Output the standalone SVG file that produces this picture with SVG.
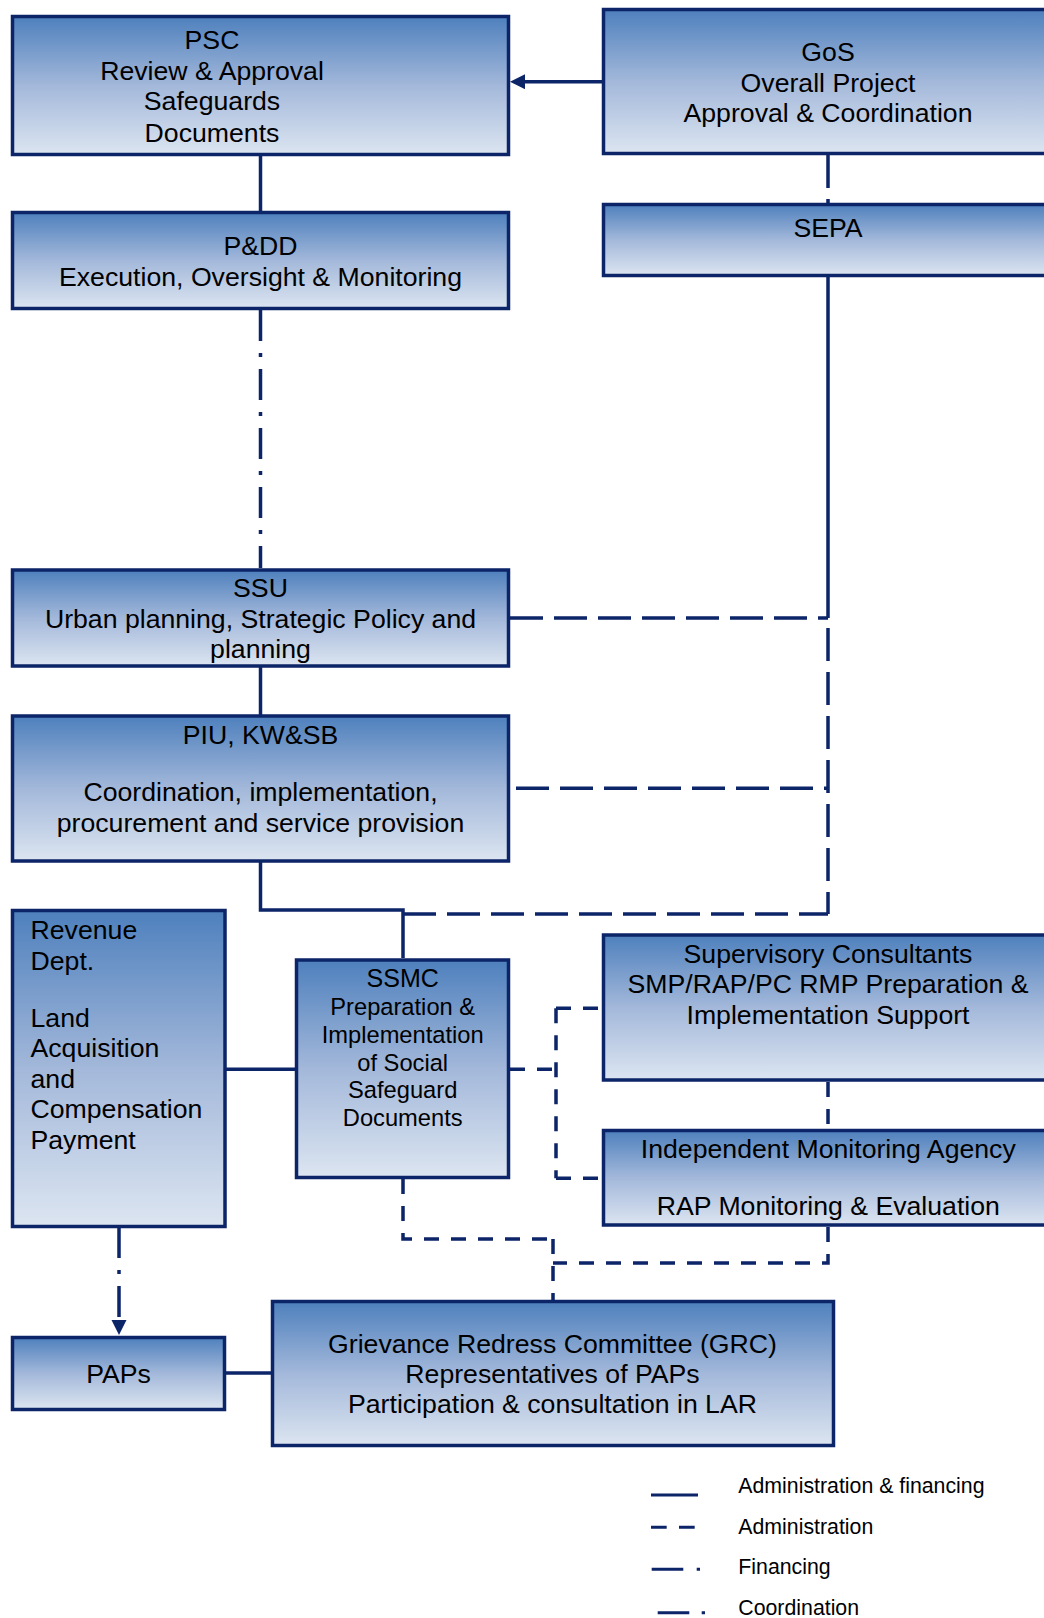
<svg xmlns="http://www.w3.org/2000/svg" width="1044" height="1618" viewBox="0 0 1044 1618">
<defs>
<linearGradient id="g" x1="0" y1="0" x2="0" y2="1">
<stop offset="0" stop-color="#4E80BD"/>
<stop offset="0.5" stop-color="#A3B8DA"/>
<stop offset="1" stop-color="#DCE5F1"/>
</linearGradient>
<marker id="arr" markerUnits="userSpaceOnUse" markerWidth="16" markerHeight="16" refX="0" refY="7.5" orient="auto" viewBox="0 0 16 16"><path d="M0,0 L15,7.5 L0,15 z" fill="#0C2468"/></marker>
<style>
.box{fill:url(#g);stroke:#0C2468;stroke-width:3.5}
.t{font-family:"Liberation Sans",Arial,sans-serif;font-size:26.67px;fill:#000}
.c{text-anchor:middle}
.s{font-size:23.7px}
.lg{font-size:21.3px}
.ln{fill:none;stroke:#0C2468;stroke-width:3.5}
.dl{stroke-dasharray:33 11}
.ds{stroke-dasharray:15 12}
.dd{stroke-dasharray:31 12 4 12}
</style>
</defs>
<rect width="1044" height="1618" fill="#fff"/>
<g id="connectors">
<path class="ln" d="M260.5,156 V211"/>
<path class="ln" d="M602,81.7 H525" marker-end="url(#arr)"/>
<path class="ln dl" d="M828,155 V203"/>
<path class="ln dd" d="M260.5,310 V568"/>
<path class="ln" d="M828,277 V618"/>
<path class="ln dl" d="M510,618 H828"/>
<path class="ln dl" d="M828,618 V914" style="stroke-dashoffset:34"/>
<path class="ln dl" d="M516,788.3 H828"/>
<path class="ln" d="M260.5,667 V715"/>
<path class="ln" d="M260.5,862 V910 H403 V958"/>
<path class="ln dl" d="M403,914 H828"/>
<path class="ln" d="M226,1069.3 H296"/>
<path class="ln ds" d="M510,1069.3 H556"/>
<path class="ln ds" d="M556,1008.3 V1178.3"/>
<path class="ln ds" d="M556,1008.3 H602"/>
<path class="ln ds" d="M556,1178.3 H602"/>
<path class="ln ds" d="M828,1082 V1129"/>
<path class="ln ds" d="M403,1179 V1239 H553"/>
<path class="ln ds" d="M828,1227 V1263 H553"/>
<path class="ln ds" d="M553,1239 V1300"/>
<path class="ln dd" d="M119,1228 V1320" style="stroke-dashoffset:1" marker-end="url(#arr)"/>
<path class="ln" d="M226,1373 H272"/>
</g>
<g id="psc"><rect class="box" x="12.5" y="16.5" width="496" height="138"/>
<text class="t c" x="212" y="49">PSC</text>
<text class="t c" x="212" y="80">Review &amp; Approval</text>
<text class="t c" x="212" y="110">Safeguards</text>
<text class="t c" x="212" y="141.7">Documents</text></g>
<g id="gos"><rect class="box" x="603.5" y="9.5" width="449" height="144"/>
<text class="t c" x="828" y="61">GoS</text>
<text class="t c" x="828" y="91.7">Overall Project</text>
<text class="t c" x="828" y="121.7">Approval &amp; Coordination</text></g>
<g id="pdd"><rect class="box" x="12.5" y="212.5" width="496" height="96"/>
<text class="t c" x="260.5" y="255">P&amp;DD</text>
<text class="t c" x="260.5" y="286">Execution, Oversight &amp; Monitoring</text></g>
<g id="sepa"><rect class="box" x="603.5" y="204.5" width="449" height="71"/>
<text class="t c" x="828" y="236.7">SEPA</text></g>
<g id="ssu"><rect class="box" x="12.5" y="570" width="496" height="96"/>
<text class="t c" x="260.5" y="597.3">SSU</text>
<text class="t c" x="260.5" y="628.3">Urban planning, Strategic Policy and</text>
<text class="t c" x="260.5" y="658.3">planning</text></g>
<g id="piu"><rect class="box" x="12.5" y="716" width="496" height="145"/>
<text class="t c" x="260.5" y="744">PIU, KW&amp;SB</text>
<text class="t c" x="260.5" y="801">Coordination, implementation,</text>
<text class="t c" x="260.5" y="831.7">procurement and service provision</text></g>
<g id="revenue"><rect class="box" x="12.5" y="910.5" width="212.5" height="316"/>
<text class="t" x="30.5" y="939">Revenue</text>
<text class="t" x="30.5" y="970">Dept.</text>
<text class="t" x="30.5" y="1026.7">Land</text>
<text class="t" x="30.5" y="1057.3">Acquisition</text>
<text class="t" x="30.5" y="1088.3">and</text>
<text class="t" x="30.5" y="1118.3">Compensation</text>
<text class="t" x="30.5" y="1149.3">Payment</text></g>
<g id="ssmc"><rect class="box" x="296.5" y="960" width="212" height="217.5"/>
<text class="t c" x="402.7" y="987.3" style="font-size:25px">SSMC</text>
<text class="t c s" x="402.7" y="1015">Preparation &amp;</text>
<text class="t c s" x="402.7" y="1043.3">Implementation</text>
<text class="t c s" x="402.7" y="1070.7">of Social</text>
<text class="t c s" x="402.7" y="1098.3">Safeguard</text>
<text class="t c s" x="402.7" y="1126">Documents</text></g>
<g id="supervisory"><rect class="box" x="603.5" y="935" width="449" height="145"/>
<text class="t c" x="828" y="963.3">Supervisory Consultants</text>
<text class="t c" x="828" y="993.3">SMP/RAP/PC RMP Preparation &amp;</text>
<text class="t c" x="828" y="1024">Implementation Support</text></g>
<g id="ima"><rect class="box" x="603.5" y="1130.5" width="449" height="94.5"/>
<text class="t c" x="828.3" y="1158.3">Independent Monitoring Agency</text>
<text class="t c" x="828.3" y="1215">RAP Monitoring &amp; Evaluation</text></g>
<g id="paps"><rect class="box" x="12.5" y="1337.5" width="212" height="72"/>
<text class="t c" x="118.5" y="1382.7">PAPs</text></g>
<g id="grc"><rect class="box" x="272.5" y="1301.5" width="561" height="144"/>
<text class="t c" x="552.5" y="1353.3">Grievance Redress Committee (GRC)</text>
<text class="t c" x="552.5" y="1382.7">Representatives of PAPs</text>
<text class="t c" x="552.5" y="1412.7">Participation &amp; consultation in LAR</text></g>
<g id="legend">
<path class="ln" d="M651,1495 H698" style="stroke-width:3"/>
<path class="ln" d="M651,1527.3 H695" style="stroke-width:3;stroke-dasharray:15.7 12.3"/>
<path class="ln" d="M651.7,1569.3 H700" style="stroke-width:3;stroke-dasharray:31.6 13.4 3.3 20"/>
<path class="ln" d="M657.7,1612.7 H705" style="stroke-width:3;stroke-dasharray:31.6 12.4 3.3 20"/>
<text class="t lg" x="738.3" y="1492.7">Administration &amp; financing</text>
<text class="t lg" x="738.3" y="1534">Administration</text>
<text class="t lg" x="738.3" y="1574.3">Financing</text>
<text class="t lg" x="738.3" y="1615">Coordination</text>
</g>
</svg>
